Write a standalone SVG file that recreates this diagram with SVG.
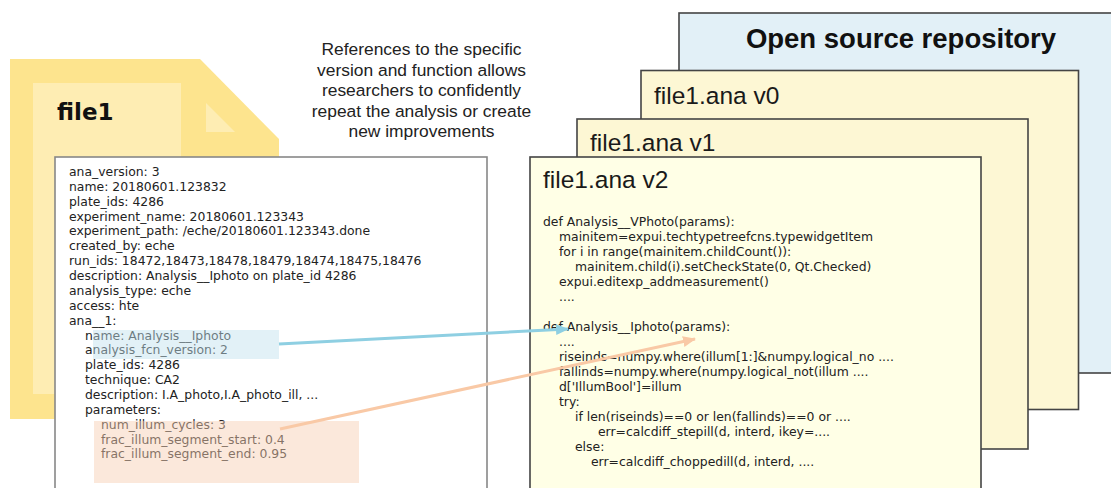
<svg xmlns="http://www.w3.org/2000/svg" width="1111" height="488" viewBox="0 0 1111 488">
<style>
.meta{font-family:"DejaVu Sans",Verdana,sans-serif;font-size:12.4px;fill:#222}
.code{font-family:"DejaVu Sans",Verdana,sans-serif;font-size:12.4px;fill:#222}
.vt{font-family:"Liberation Sans",Arial,sans-serif;font-size:24.5px;fill:#1a1a1a}
.cap{font-family:"Liberation Sans",Arial,sans-serif;font-size:17.4px;fill:#222;text-anchor:middle}
.vbox{fill:#fdf7d4;stroke:#444;stroke-width:1.6}
</style>
<defs>
<marker id="ahBlue" markerUnits="userSpaceOnUse" markerWidth="14" markerHeight="12" refX="12" refY="5.5" orient="auto"><path d="M0,0 L13,5.5 L0,11 z" fill="#8ecfe2"/></marker>
<marker id="ahOrange" markerUnits="userSpaceOnUse" markerWidth="14" markerHeight="12" refX="12" refY="5.5" orient="auto"><path d="M0,0 L13,5.5 L0,11 z" fill="#f9c9a6"/></marker>
</defs>
<rect width="1111" height="488" fill="#ffffff"/>

<g id="repo">
<rect x="679" y="13" width="450" height="360" fill="#e2f0f7" stroke="#444" stroke-width="1.6"/>
<text x="901" y="48" text-anchor="middle" style="font-family:'Liberation Sans',Arial,sans-serif;font-size:27.5px;font-weight:bold;fill:#111">Open source repository</text>
</g>

<g id="v0">
<rect class="vbox" x="641" y="70.5" width="437.5" height="339"/>
<text class="vt" x="654" y="104">file1.ana v0</text>
</g>

<g id="v1">
<rect class="vbox" x="577" y="119" width="451" height="330"/>
<text class="vt" x="590" y="151">file1.ana v1</text>
</g>

<g id="v2">
<rect x="530" y="157" width="451" height="345" fill="#ffffe6" stroke="#444" stroke-width="1.6"/>
<text class="vt" x="543" y="188">file1.ana v2</text>
<text class="code" x="543" y="226">def Analysis__VPhoto(params):</text>
<text class="code" x="559" y="241">mainitem=expui.techtypetreefcns.typewidgetItem</text>
<text class="code" x="559" y="256">for i in range(mainitem.childCount()):</text>
<text class="code" x="575" y="271">mainitem.child(i).setCheckState(0, Qt.Checked)</text>
<text class="code" x="559" y="286">expui.editexp_addmeasurement()</text>
<text class="code" x="559" y="301">....</text>
<text class="code" x="543" y="331">def Analysis__Iphoto(params):</text>
<text class="code" x="559" y="346">....</text>
<text class="code" x="559" y="361">riseinds=numpy.where(illum[1:]&amp;numpy.logical_no ....</text>
<text class="code" x="559" y="376">fallinds=numpy.where(numpy.logical_not(illum ....</text>
<text class="code" x="559" y="391">d['IllumBool']=illum</text>
<text class="code" x="559" y="406">try:</text>
<text class="code" x="575" y="421">if len(riseinds)==0 or len(fallinds)==0 or ....</text>
<text class="code" x="598" y="436">err=calcdiff_stepill(d, interd, ikey=....</text>
<text class="code" x="575" y="451">else:</text>
<text class="code" x="591" y="466">err=calcdiff_choppedill(d, interd, ....</text>
</g>

<g id="file1">
<polygon points="10,59 200,59 279,139 279,419 10,419" fill="#fde48e"/>
<rect x="33" y="83" width="148" height="311" fill="#feedb3"/>
<polygon points="206,103 206,132 235,132" fill="#feedb3"/>
<text x="57" y="120" style="font-family:'DejaVu Sans',Verdana,sans-serif;font-size:23px;font-weight:bold;fill:#111">file1</text>
</g>

<g id="caption">
<text class="cap" x="421.5" y="55">References to the specific</text>
<text class="cap" x="421.5" y="75.5">version and function allows</text>
<text class="cap" x="421.5" y="96">researchers to confidently</text>
<text class="cap" x="421.5" y="116.5">repeat the analysis or create</text>
<text class="cap" x="421.5" y="137">new improvements</text>
</g>

<g id="metadata">
<rect x="55" y="157" width="432" height="345" fill="#ffffff" stroke="#888" stroke-width="1.6"/>
<text class="meta" x="69" y="176">ana_version: 3</text>
<text class="meta" x="69" y="190.9">name: 20180601.123832</text>
<text class="meta" x="69" y="205.7">plate_ids: 4286</text>
<text class="meta" x="69" y="220.6">experiment_name: 20180601.123343</text>
<text class="meta" x="69" y="235.4">experiment_path: /eche/20180601.123343.done</text>
<text class="meta" x="69" y="250.3">created_by: eche</text>
<text class="meta" x="69" y="265.2">run_ids: 18472,18473,18478,18479,18474,18475,18476</text>
<text class="meta" x="69" y="280">description: Analysis__Iphoto on plate_id 4286</text>
<text class="meta" x="69" y="294.9">analysis_type: eche</text>
<text class="meta" x="69" y="309.7">access: hte</text>
<text class="meta" x="69" y="324.6">ana__1:</text>
<text class="meta" x="85" y="339.5">name: Analysis__Iphoto</text>
<text class="meta" x="85" y="354.3">analysis_fcn_version: 2</text>
<text class="meta" x="85" y="369.2">plate_ids: 4286</text>
<text class="meta" x="85" y="384">technique: CA2</text>
<text class="meta" x="85" y="398.9">description: I.A_photo,I.A_photo_ill, ...</text>
<text class="meta" x="85" y="413.8">parameters:</text>
<text class="meta" x="101" y="428.6">num_illum_cycles: 3</text>
<text class="meta" x="101" y="443.5">frac_illum_segment_start: 0.4</text>
<text class="meta" x="101" y="458.3">frac_illum_segment_end: 0.95</text>
<rect x="93" y="330" width="186" height="29" fill="rgb(193,225,238)" fill-opacity="0.47"/>
<rect x="94" y="421" width="265" height="62" fill="rgb(247,206,179)" fill-opacity="0.47"/>
</g>

<g id="connectors" fill="none" stroke-width="3">
<line x1="279" y1="344" x2="568" y2="329" stroke="#8ecfe2" marker-end="url(#ahBlue)"/>
<line x1="280" y1="429" x2="695" y2="339" stroke="#f9c9a6" marker-end="url(#ahOrange)"/>
</g>
</svg>
